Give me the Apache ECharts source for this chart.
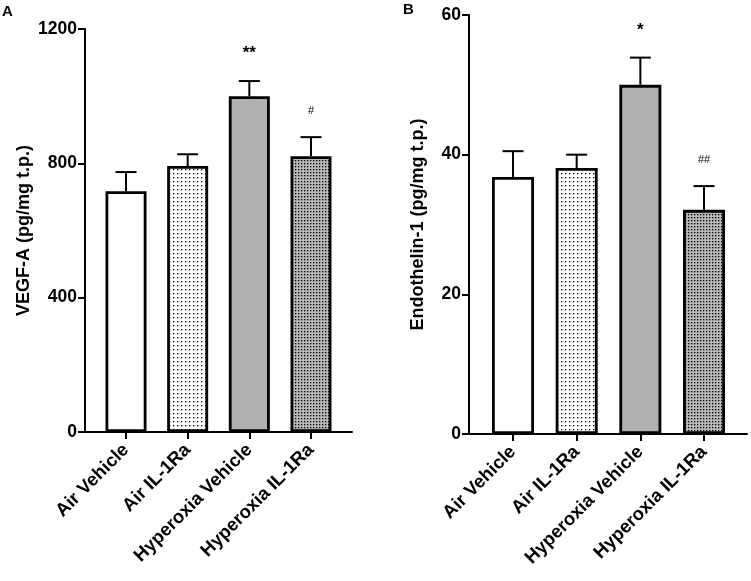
<!DOCTYPE html>
<html>
<head>
<meta charset="utf-8">
<script src="https://cdn.jsdelivr.net/npm/echarts@6/dist/echarts.min.js"></script>
<style>
html, body { margin: 0; padding: 0; background: #fff; }
#chart { width: 751px; height: 581px; }
</style>
</head>
<body>
<div id="chart"></div>
<script>
// 数据
const groups = ['Air Vehicle', 'Air IL-1Ra', 'Hyperoxia Vehicle', 'Hyperoxia IL-1Ra'];
const groupPos = [0, 1, 2, 3];

const vegfMean = [717, 792, 1000, 821];
const vegfErr = [57, 35, 45, 57];
const vegfSig = ['', '', '**', '#'];
const vegfTicks = [0, 400, 1200];

const et1Mean = [36.8, 38.1, 50.0, 32.1];
const et1Err = [3.7, 1.9, 3.9, 3.4];
const et1Sig = ['', '', '*', '##'];
const et1Ticks = [0, 20, 60];

const FONT = 'Liberation Sans, Arial, sans-serif';

// 点状填充
function dots(bg, step, size) {
    const c = document.createElement('canvas');
    c.width = c.height = step;
    const ctx = c.getContext('2d');
    ctx.fillStyle = bg;
    ctx.fillRect(0, 0, step, step);
    ctx.fillStyle = '#000';
    ctx.fillRect(1, 1, size, size);
    return { image: c, repeat: 'repeat' };
}
const fills = ['#ffffff', dots('#ffffff', 4, 1.3), '#b0b0b0', dots('#b8b8b8', 3, 1.3)];

function panel(idx, mean, err, sig, ticks, name, nameGap, box, xRange, barWidth) {
    const grid = { left: box[0], top: box[1], width: box[2], height: box[3] };
    const xAxis = {
        gridIndex: idx,
        type: 'value',
        min: xRange[0],
        max: xRange[1],
        axisLine: { show: true, onZero: false, lineStyle: { color: '#000', width: 2 } },
        axisTick: { show: true, customValues: groupPos, length: 7, lineStyle: { color: '#000', width: 2 } },
        axisLabel: {
            customValues: groupPos,
            rotate: 45,
            margin: 15,
            formatter: v => groups[Math.round(v)],
            color: '#000',
            fontSize: 18.5,
            fontWeight: 'bold',
            fontFamily: FONT
        },
        splitLine: { show: false }
    };
    const yAxis = {
        gridIndex: idx,
        type: 'value',
        min: ticks[0],
        max: ticks[2],
        interval: ticks[1],
        name: name,
        nameLocation: 'middle',
        nameGap: nameGap,
        nameTextStyle: { color: '#000', fontSize: 18, fontWeight: 'bold', fontFamily: FONT },
        axisLine: { show: true, onZero: false, lineStyle: { color: '#000', width: 2 } },
        axisTick: { show: true, length: 7, lineStyle: { color: '#000', width: 2 } },
        axisLabel: {
            color: '#000', fontSize: 17.5, fontWeight: 'bold', fontFamily: FONT, margin: 8,
            formatter: v => String(v)
        },
        splitLine: { show: false }
    };
    const bars = {
        type: 'bar',
        xAxisIndex: idx,
        yAxisIndex: idx,
        barWidth: barWidth,
        silent: true,
        data: mean.map((m, i) => ({ value: [groupPos[i], m], itemStyle: { color: fills[i] } })),
        itemStyle: { borderColor: '#000', borderWidth: 2.8 },
        z: 2
    };
    // 误差线和显著性标记
    const errBars = {
        type: 'custom',
        xAxisIndex: idx,
        yAxisIndex: idx,
        silent: true,
        data: mean.map((m, i) => [groupPos[i], m, err[i]]),
        renderItem: function (params, api) {
            const base = api.coord([api.value(0), api.value(1)]);
            const top = api.coord([api.value(0), api.value(1) + api.value(2)]);
            const s = sig[params.dataIndex];
            const style = { stroke: '#000', lineWidth: 2 };
            const children = [
                { type: 'line', shape: { x1: base[0], y1: base[1], x2: top[0], y2: top[1] }, style: style },
                { type: 'line', shape: { x1: top[0] - 10.5, y1: top[1], x2: top[0] + 10.5, y2: top[1] }, style: style }
            ];
            if (s) {
                const star = s.indexOf('*') >= 0;
                children.push({
                    type: 'text',
                    x: top[0],
                    y: top[1] - (star ? 19 : 21),
                    style: {
                        text: s,
                        fill: '#000',
                        fontSize: star ? 17 : 11,
                        fontWeight: star ? 'bold' : 'normal',
                        fontFamily: FONT,
                        align: 'center',
                        verticalAlign: 'bottom'
                    }
                });
            }
            return { type: 'group', children: children };
        },
        z: 3
    };
    return { grid, xAxis, yAxis, series: [bars, errBars] };
}

const pA = panel(0, vegfMean, vegfErr, vegfSig, vegfTicks, 'VEGF-A (pg/mg t.p.)', 52,
    [85, 29, 267, 403], [-0.665, 3.665], 41);
const pB = panel(1, et1Mean, et1Err, et1Sig, et1Ticks, 'Endothelin-1 (pg/mg t.p.)', 42,
    [469, 15, 278, 419], [-0.691, 3.675], 42);

const chart = echarts.init(document.getElementById('chart'));
chart.setOption({
    animation: false,
    backgroundColor: '#fff',
    grid: [pA.grid, pB.grid],
    xAxis: [pA.xAxis, pB.xAxis],
    yAxis: [pA.yAxis, pB.yAxis],
    series: pA.series.concat(pB.series),
    graphic: [
        { type: 'text', left: 2, top: 4, style: { text: 'A', fontSize: 15, fontWeight: 'bold', fontFamily: FONT, fill: '#000' } },
        { type: 'text', left: 403, top: 2, style: { text: 'B', fontSize: 15, fontWeight: 'bold', fontFamily: FONT, fill: '#000' } }
    ]
});
</script>
</body>
</html>
